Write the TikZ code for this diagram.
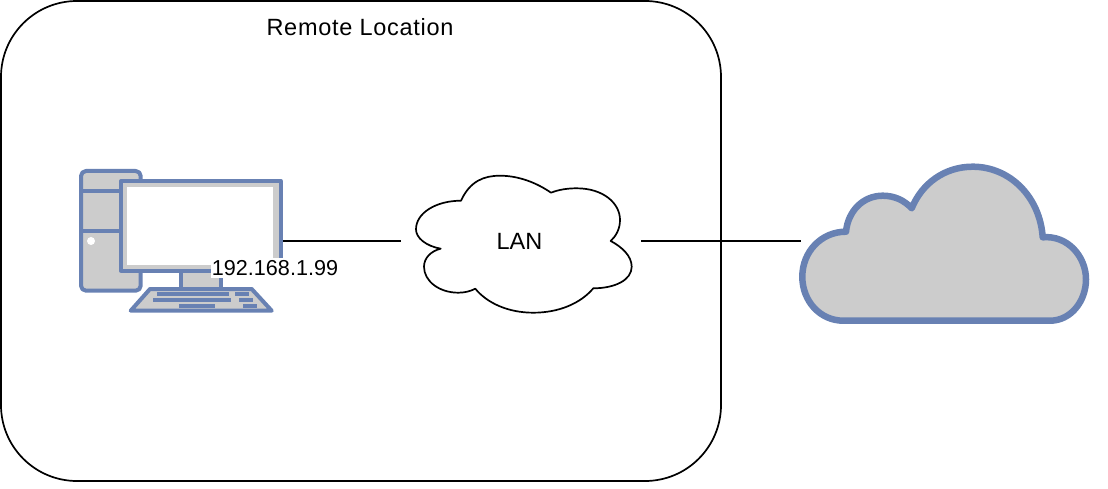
\documentclass[tikz,border=0pt]{standalone}
\usepackage{fontspec}
\setmainfont{Liberation Sans}
\newfontfamily\titlefont[LetterSpace=3]{Liberation Sans}
\definecolor{iconblue}{HTML}{6881B3}
\definecolor{icongray}{HTML}{CCCCCC}
\tikzset{
	icon/.style={draw=iconblue,fill=icongray,line width=4pt,line join=round},
	key/.style={fill=iconblue},
	link/.style={draw=black,line width=1.7pt},
	label/.style={font=\fontsize{21.6}{25}\selectfont,inner sep=0pt},
	anchorbox/.style={inner sep=0pt,minimum width=#1,minimum height=160pt}
}
\begin{document}
\begin{tikzpicture}[x=1pt,y=-1pt]
\useasboundingbox (0,0) rectangle (1108,489);
% remote location
\draw[line width=1.7pt,rounded corners=76pt] (1,1) rectangle (721,481);
\node[label,font=\titlefont\fontsize{23.5}{27}\selectfont] (title) at (360,27) {Remote Location};
% computer
\draw[icon,rounded corners=5pt] (81,171) rectangle (140.7,290.7);
\draw[iconblue,line width=4pt] (81,190.7) -- (140.7,190.7);
\draw[iconblue,line width=4pt] (81,230.7) -- (140.7,230.7);
\fill[white] (91,241) circle (4);
\draw[icon] (181,270.7) rectangle (221,289);
\draw[icon] (121,181) rectangle (280.7,270.7);
\fill[white] (126.7,186.7) rectangle (273.3,265);
\draw[icon] (150,289) -- (251.7,289) -- (271.7,310.7) -- (130.7,310.7) -- cycle;
\fill[key] (157.3,292) rectangle (229,296);
\fill[key] (235,292) rectangle (249,296);
\fill[key] (153.3,298) rectangle (231,302);
\fill[key] (239,298) rectangle (253,302);
\fill[key] (179,304) rectangle (215,308);
\fill[key] (243,304) rectangle (257,308);
\node[anchorbox=203pt] (pc) at (181.5,241) {};
\node[label,fill=white,inner xsep=1pt,inner ysep=2pt] (ip) at (275,268) {192.168.1.99};
% lan cloud
\draw[line width=1.7pt,line join=round] (461,200.7)
	.. controls (470,181) and (484,175.7) .. (500,175.7)
	.. controls (519,175.7) and (537,183) .. (551,192.7)
	.. controls (559,189.5) and (568,188.3) .. (576.7,188.3)
	.. controls (603,188.3) and (620,203) .. (620,220)
	.. controls (620,229) and (616,236) .. (610.7,241)
	.. controls (622,247) and (631.7,256) .. (631.7,266.7)
	.. controls (631.7,280) and (615,288.3) .. (593.3,288.3)
	.. controls (580,304) and (558,312.7) .. (533.3,312.7)
	.. controls (508,312.7) and (487,303) .. (475.3,288.7)
	.. controls (470,291.5) and (464,292.7) .. (458.3,292.7)
	.. controls (439,292.7) and (424,281) .. (424,266.7)
	.. controls (424,258) and (431,251) .. (440.7,248.7)
	.. controls (426,246) and (416,238) .. (416,229.3)
	.. controls (416,213) and (436,200.7) .. (461,200.7) -- cycle;
\node[label,font=\fontsize{23.5}{27}\selectfont,anchorbox=240pt] (lan) at (521,241) {\kern-3pt LAN};
% internet cloud
\draw[icon,line width=6.5pt] (843.3,320.7) -- (1050,320.7)
	.. controls (1071,320.7) and (1086,301) .. (1086,279.3)
	.. controls (1086,257) and (1068,235) .. (1042.7,237.3)
	.. controls (1040,197) and (1010,166.7) .. (972.7,166.7)
	.. controls (945,166.7) and (922,183) .. (911.7,208.3)
	.. controls (904,200) and (894,195.7) .. (882.7,195.7)
	.. controls (863,195.7) and (848,211) .. (846,231.7)
	.. controls (821,231.7) and (802.3,252) .. (802.3,276.7)
	.. controls (802.3,301) and (820,320.7) .. (843.3,320.7) -- cycle;
\node[anchorbox=289pt] (wan) at (945.5,241) {};
% links
\draw[link] (pc.east) -- (lan.west);
\draw[link] (lan.east) -- (wan.west);
\end{tikzpicture}
\end{document}
